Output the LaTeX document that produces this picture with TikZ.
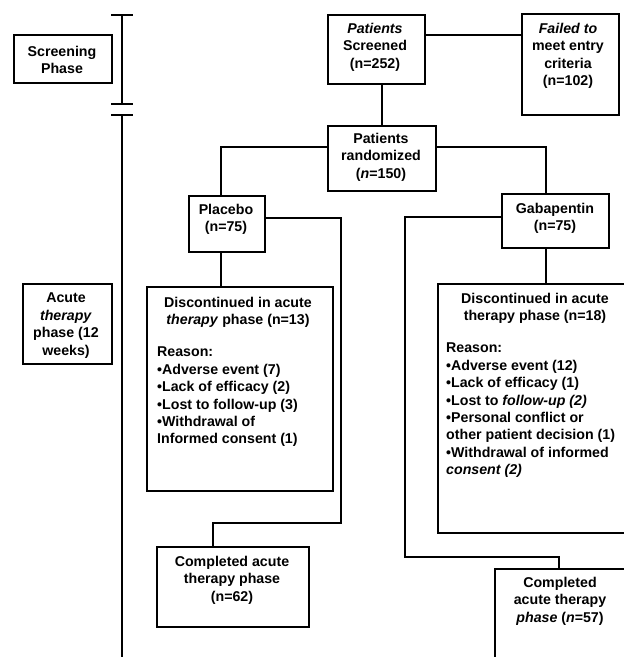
\documentclass[tikz,border=0pt]{standalone}
\usepackage{fontspec}
\setmainfont{Liberation Sans}
\usetikzlibrary{calc}
\begin{document}
\begin{tikzpicture}[x=1pt,y=-1pt,
 box/.style={draw, line width=1.8pt, anchor=north west, inner sep=0pt},
 txt/.style={font=\bfseries\fontsize{14.2}{17.4}\selectfont, align=center, anchor=north, inner sep=0pt},
 ltxt/.style={txt, align=left, anchor=north west},
 ln/.style={line width=1.8pt},
 tl/.style={line width=2.2pt},
]
\useasboundingbox (0,0) rectangle (624,657);
\clip (0,0) rectangle (624,657);

% timeline
\coordinate (ta) at (122,15);
\coordinate (tb) at (122,104);
\coordinate (tc) at (122,115);
\coordinate (td) at (122,657);
\draw[tl] (ta) -- (tb);
\draw[tl] (tc) -- (td);
\draw[tl] ($(ta)+(-11,0)$) -- ($(ta)+(11,0)$);
\draw[tl] ($(tb)+(-11,0)$) -- ($(tb)+(11,0)$);
\draw[tl] ($(tc)+(-11,0)$) -- ($(tc)+(11,0)$);

% boxes
\node[box, minimum width=98pt, minimum height=48pt] (sp) at (13,34) {};
\node[box, minimum width=89pt, minimum height=80pt] (ap) at (22,283) {};
\node[box, minimum width=97pt, minimum height=69pt] (scr) at (327,14) {};
\node[box, minimum width=97pt, minimum height=101pt] (fail) at (521,13) {};
\node[box, minimum width=108pt, minimum height=65pt] (rnd) at (327,125) {};
\node[box, minimum width=76pt, minimum height=56pt] (pl) at (188,195) {};
\node[box, minimum width=107pt, minimum height=54pt] (gb) at (501,193) {};
\node[box, minimum width=186pt, minimum height=204pt] (dpl) at (146,286) {};
\node[box, minimum width=152pt, minimum height=80pt] (cpl) at (156,546) {};
\node[box, minimum width=200pt, minimum height=249pt] (dgb) at (437,283) {};
\node[box, minimum width=140pt, minimum height=110pt] (cgb) at (494,568) {};

% texts
\node[txt] (tsp) at (62,46) {Screening\\Phase};
\node[txt] (tap) at (66,293) {Acute\\\textit{therapy}\\phase (12\\weeks)};
\node[txt] (tscr) at (375,23) {\textit{Patients}\\Screened\\(n=252)};
\node[txt] (tfail) at (568,23) {\textit{Failed to}\\meet entry\\criteria\\(n=102)};
\node[txt] (trnd) at (381,133) {Patients\\randomized\\(\textit{n}=150)};
\node[txt] (tpl) at (226,204) {Placebo\\(n=75)};
\node[txt] (tgb) at (555,203) {Gabapentin\\(n=75)};
\node[txt] (tdpl) at (238,297) {Discontinued in acute\\\textit{therapy} phase (n=13)};
\node[ltxt] (rdpl) at (157,347) {Reason:\\\textbullet Adverse event (7)\\\textbullet Lack of efficacy (2)\\\textbullet Lost to follow-up (3)\\\textbullet Withdrawal of\\Informed consent (1)};
\node[txt] (tcpl) at (232,556) {Completed acute\\therapy phase\\(n=62)};
\node[txt] (tdgb) at (535,293) {Discontinued in acute\\therapy phase (n=18)};
\node[ltxt] (rdgb) at (446,343) {Reason:\\\textbullet Adverse event (12)\\\textbullet Lack of efficacy (1)\\\textbullet Lost to \textit{follow-up (2)}\\\textbullet Personal conflict or\\other patient decision (1)\\\textbullet Withdrawal of informed\\\textit{consent (2)}};
\node[txt] (tcgb) at (560,577) {Completed\\acute therapy\\\textit{phase} (\textit{n}=57)};

% connectors
\coordinate (c1) at (424,35);
\draw[ln] (c1) -- (c1 -| fail.west);
\draw[ln] (rnd.north) -- (rnd.north |- scr.south);
\coordinate (rl) at (221,147);
\draw[ln] (rnd.west |- rl) -- (rl) -- (rl |- pl.north);
\coordinate (rr) at (546,147);
\draw[ln] (rnd.east |- rr) -- (rr) -- (rr |- gb.north);
\draw[ln] (rl |- pl.south) -- (rl |- dpl.north);
\draw[ln] (rr |- gb.south) -- (rr |- dgb.north);
\coordinate (p1) at (341,218);
\coordinate (p2) at (341,523);
\coordinate (p3) at (213,523);
\draw[ln] (pl.east |- p1) -- (p1) -- (p2) -- (p3) -- (p3 |- cpl.north);
\coordinate (g1) at (405,217);
\coordinate (g2) at (405,557);
\coordinate (g3) at (559,557);
\draw[ln] (gb.west |- g1) -- (g1) -- (g2) -- (g3) -- (g3 |- cgb.north);
\end{tikzpicture}
\end{document}
